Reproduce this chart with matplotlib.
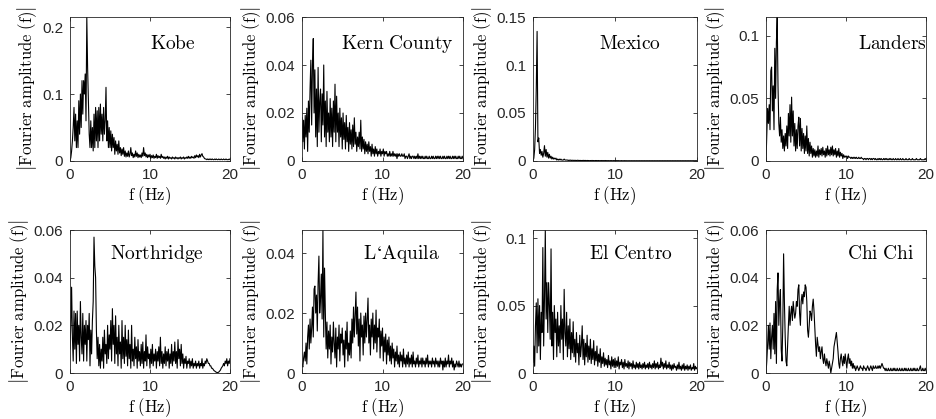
import numpy as np
import matplotlib
matplotlib.use('Agg')
import matplotlib.pyplot as plt
from matplotlib.ticker import FuncFormatter

plt.rcParams['mathtext.fontset'] = 'cm'
plt.rcParams['font.family'] = ['Liberation Sans', 'DejaVu Sans']

# passo em frequencia dos espectros (Hz)
DF = 0.1

# amplitudes de Fourier, de 0 a 20 Hz
kobe = [
    0.000, 0.005, 0.015, 0.030, 0.050, 0.080, 0.030, 0.070, 0.020, 0.060,
    0.020, 0.090, 0.040, 0.100, 0.050, 0.120, 0.070, 0.120, 0.100, 0.130,
    0.060, 0.215, 0.140, 0.090, 0.040, 0.020, 0.060, 0.020, 0.050, 0.015,
    0.070, 0.020, 0.080, 0.030, 0.075, 0.020, 0.080, 0.030, 0.085, 0.040,
    0.070, 0.030, 0.080, 0.040, 0.060, 0.110, 0.030, 0.060, 0.020, 0.050,
    0.020, 0.045, 0.015, 0.040, 0.020, 0.035, 0.010, 0.030, 0.015, 0.025,
    0.010, 0.030, 0.012, 0.020, 0.008, 0.018, 0.010, 0.020, 0.007, 0.015,
    0.006, 0.012, 0.007, 0.015, 0.006, 0.010, 0.020, 0.008, 0.012, 0.005,
    0.010, 0.006, 0.015, 0.007, 0.012, 0.005, 0.010, 0.006, 0.009, 0.005,
    0.012, 0.007, 0.020, 0.008, 0.012, 0.006, 0.010, 0.005, 0.009, 0.006,
    0.010, 0.004, 0.008, 0.005, 0.009, 0.004, 0.007, 0.005, 0.010, 0.004,
    0.008, 0.005, 0.007, 0.004, 0.010, 0.005, 0.007, 0.004, 0.006, 0.003,
    0.006, 0.004, 0.007, 0.003, 0.006, 0.004, 0.005, 0.003, 0.006, 0.004,
    0.005, 0.003, 0.006, 0.004, 0.005, 0.003, 0.005, 0.004, 0.006, 0.003,
    0.005, 0.004, 0.006, 0.003, 0.005, 0.004, 0.006, 0.004, 0.007, 0.004,
    0.006, 0.004, 0.007, 0.005, 0.006, 0.004, 0.008, 0.005, 0.009, 0.006,
    0.008, 0.005, 0.010, 0.006, 0.009, 0.011, 0.007, 0.006, 0.004, 0.003,
    0.003, 0.002, 0.003, 0.002, 0.003, 0.002, 0.003, 0.002, 0.003, 0.002,
    0.002, 0.003, 0.002, 0.003, 0.002, 0.002, 0.003, 0.002, 0.002, 0.003,
    0.002, 0.002, 0.003, 0.002, 0.002, 0.003, 0.002, 0.002, 0.002, 0.003,
    0.002,
]

kern_county = [
    0.018, 0.008, 0.017, 0.005, 0.019, 0.010, 0.022, 0.004, 0.025, 0.012,
    0.030, 0.042, 0.015, 0.040, 0.051, 0.020, 0.038, 0.010, 0.030, 0.006,
    0.039, 0.012, 0.025, 0.030, 0.008, 0.028, 0.015, 0.040, 0.010, 0.025,
    0.006, 0.029, 0.012, 0.020, 0.008, 0.026, 0.010, 0.022, 0.006, 0.025,
    0.012, 0.032, 0.008, 0.027, 0.012, 0.020, 0.006, 0.022, 0.010, 0.018,
    0.005, 0.020, 0.009, 0.016, 0.005, 0.019, 0.008, 0.014, 0.004, 0.016,
    0.007, 0.013, 0.005, 0.015, 0.006, 0.018, 0.007, 0.012, 0.004, 0.010,
    0.006, 0.012, 0.005, 0.017, 0.004, 0.010, 0.005, 0.009, 0.003, 0.008,
    0.004, 0.007, 0.003, 0.008, 0.004, 0.006, 0.002, 0.007, 0.003, 0.005,
    0.002, 0.006, 0.003, 0.005, 0.002, 0.004, 0.003, 0.005, 0.002, 0.004,
    0.003, 0.005, 0.002, 0.004, 0.003, 0.004, 0.002, 0.003, 0.002, 0.004,
    0.002, 0.003, 0.002, 0.004, 0.002, 0.003, 0.002, 0.003, 0.001, 0.003,
    0.002, 0.003, 0.002, 0.002, 0.003, 0.002, 0.002, 0.003, 0.001, 0.002,
    0.002, 0.001, 0.002, 0.003, 0.001, 0.002, 0.001, 0.002, 0.002, 0.001,
    0.002, 0.001, 0.002, 0.001, 0.003, 0.001, 0.002, 0.001, 0.002, 0.001,
    0.002, 0.001, 0.001, 0.002, 0.001, 0.002, 0.001, 0.001, 0.002, 0.001,
    0.001, 0.002, 0.001, 0.002, 0.001, 0.001, 0.002, 0.001, 0.002, 0.001,
    0.002, 0.001, 0.002, 0.001, 0.001, 0.002, 0.001, 0.002, 0.001, 0.001,
    0.002, 0.001, 0.002, 0.001, 0.002, 0.001, 0.001, 0.002, 0.001, 0.002,
    0.001, 0.002, 0.001, 0.001, 0.002, 0.001, 0.002, 0.001, 0.001, 0.002,
    0.001,
]

mexico = [
    0.000, 0.003, 0.012, 0.035, 0.076, 0.135, 0.020, 0.024, 0.008, 0.012,
    0.006, 0.010, 0.004, 0.008, 0.016, 0.005, 0.012, 0.004, 0.009, 0.003,
    0.007, 0.003, 0.005, 0.002, 0.004, 0.002, 0.003, 0.002, 0.003, 0.001,
    0.002, 0.001, 0.002, 0.001, 0.002, 0.001, 0.001, 0.001, 0.002, 0.001,
    0.001, 0.001, 0.001, 0.0005, 0.001, 0.0005, 0.001, 0.0005, 0.0008, 0.0005,
    0.0008, 0.0005, 0.0007, 0.0004, 0.0008, 0.0005, 0.0007, 0.0004, 0.0006, 0.0004,
    0.0006, 0.0004, 0.0007, 0.0004, 0.0006, 0.0003, 0.0006, 0.0004, 0.0005, 0.0003,
    0.0005, 0.0003, 0.0006, 0.0003, 0.0005, 0.0003, 0.0005, 0.0004, 0.0005, 0.0003,
    0.0005, 0.0003, 0.0004, 0.0003, 0.0005, 0.0003, 0.0004, 0.0003, 0.0005, 0.0003,
    0.0004, 0.0003, 0.0004, 0.0002, 0.0004, 0.0003, 0.0004, 0.0002, 0.0004, 0.0003,
    0.0004, 0.0002, 0.0004, 0.0003, 0.0004, 0.0002, 0.0003, 0.0002, 0.0004, 0.0002,
    0.0003, 0.0002, 0.0004, 0.0002, 0.0003, 0.0002, 0.0003, 0.0002, 0.0003, 0.0002,
    0.0003, 0.0002, 0.0003, 0.0002, 0.0003, 0.0002, 0.0003, 0.0002, 0.0003, 0.0002,
    0.0003, 0.0002, 0.0003, 0.0002, 0.0003, 0.0002, 0.0003, 0.0002, 0.0003, 0.0002,
    0.0003, 0.0002, 0.0003, 0.0002, 0.0003, 0.0002, 0.0003, 0.0002, 0.0003, 0.0002,
    0.0003, 0.0002, 0.0003, 0.0002, 0.0003, 0.0002, 0.0003, 0.0002, 0.0003, 0.0002,
    0.0003, 0.0002, 0.0003, 0.0002, 0.0003, 0.0002, 0.0003, 0.0002, 0.0003, 0.0002,
    0.0003, 0.0002, 0.0003, 0.0002, 0.0003, 0.0002, 0.0003, 0.0002, 0.0003, 0.0002,
    0.0003, 0.0002, 0.0003, 0.0002, 0.0003, 0.0002, 0.0003, 0.0002, 0.0003, 0.0002,
    0.0003, 0.0002, 0.0003, 0.0002, 0.0003, 0.0002, 0.0003, 0.0002, 0.0003, 0.0002,
    0.0003,
]

landers = [
    0.000, 0.020, 0.042, 0.030, 0.045, 0.025, 0.072, 0.075, 0.040, 0.060,
    0.025, 0.090, 0.050, 0.095, 0.115, 0.060, 0.030, 0.020, 0.035, 0.015,
    0.025, 0.010, 0.020, 0.008, 0.022, 0.012, 0.028, 0.010, 0.038, 0.020,
    0.045, 0.015, 0.051, 0.020, 0.040, 0.012, 0.030, 0.008, 0.025, 0.010,
    0.028, 0.035, 0.012, 0.034, 0.008, 0.026, 0.010, 0.022, 0.006, 0.020,
    0.008, 0.028, 0.006, 0.018, 0.004, 0.015, 0.006, 0.012, 0.003, 0.010,
    0.004, 0.009, 0.003, 0.008, 0.004, 0.012, 0.003, 0.009, 0.005, 0.010,
    0.004, 0.011, 0.005, 0.008, 0.003, 0.010, 0.004, 0.012, 0.005, 0.009,
    0.004, 0.011, 0.005, 0.012, 0.004, 0.009, 0.005, 0.010, 0.003, 0.008,
    0.004, 0.010, 0.003, 0.007, 0.004, 0.006, 0.002, 0.005, 0.003, 0.004,
    0.003, 0.004, 0.002, 0.004, 0.003, 0.003, 0.002, 0.003, 0.002, 0.003,
    0.002, 0.003, 0.002, 0.003, 0.002, 0.002, 0.003, 0.002, 0.002, 0.003,
    0.002, 0.002, 0.001, 0.002, 0.002, 0.001, 0.002, 0.002, 0.001, 0.002,
    0.002, 0.001, 0.002, 0.001, 0.002, 0.002, 0.001, 0.002, 0.001, 0.001,
    0.002, 0.001, 0.002, 0.001, 0.002, 0.001, 0.001, 0.002, 0.001, 0.002,
    0.001, 0.002, 0.001, 0.001, 0.002, 0.001, 0.002, 0.001, 0.001, 0.002,
    0.001, 0.001, 0.002, 0.001, 0.001, 0.002, 0.001, 0.001, 0.002, 0.001,
    0.001, 0.002, 0.001, 0.001, 0.001, 0.002, 0.001, 0.001, 0.001, 0.002,
    0.001, 0.001, 0.001, 0.002, 0.001, 0.001, 0.001, 0.001, 0.002, 0.001,
    0.001, 0.001, 0.001, 0.002, 0.001, 0.001, 0.001, 0.001, 0.001, 0.002,
    0.001,
]

northridge = [
    0.010, 0.020, 0.036, 0.015, 0.005, 0.026, 0.010, 0.025, 0.004, 0.026,
    0.012, 0.020, 0.005, 0.030, 0.015, 0.008, 0.025, 0.005, 0.020, 0.012,
    0.022, 0.005, 0.020, 0.014, 0.025, 0.003, 0.018, 0.008, 0.022, 0.030,
    0.057, 0.045, 0.040, 0.018, 0.006, 0.015, 0.003, 0.012, 0.002, 0.010,
    0.005, 0.015, 0.002, 0.018, 0.008, 0.012, 0.004, 0.020, 0.006, 0.016,
    0.010, 0.022, 0.005, 0.027, 0.012, 0.020, 0.004, 0.024, 0.008, 0.015,
    0.003, 0.020, 0.008, 0.013, 0.002, 0.022, 0.006, 0.015, 0.004, 0.020,
    0.007, 0.014, 0.003, 0.018, 0.006, 0.012, 0.002, 0.020, 0.005, 0.010,
    0.003, 0.015, 0.006, 0.011, 0.002, 0.014, 0.005, 0.009, 0.003, 0.012,
    0.004, 0.013, 0.002, 0.009, 0.005, 0.016, 0.003, 0.011, 0.006, 0.008,
    0.002, 0.010, 0.004, 0.012, 0.003, 0.008, 0.005, 0.010, 0.002, 0.009,
    0.005, 0.011, 0.003, 0.015, 0.004, 0.009, 0.002, 0.008, 0.004, 0.011,
    0.003, 0.009, 0.005, 0.010, 0.002, 0.008, 0.004, 0.012, 0.003, 0.009,
    0.005, 0.013, 0.004, 0.009, 0.002, 0.014, 0.006, 0.010, 0.003, 0.012,
    0.004, 0.008, 0.002, 0.006, 0.004, 0.007, 0.002, 0.005, 0.004, 0.006,
    0.002, 0.005, 0.003, 0.006, 0.002, 0.004, 0.003, 0.005, 0.002, 0.004,
    0.003, 0.005, 0.002, 0.004, 0.003, 0.006, 0.002, 0.004, 0.003, 0.005,
    0.004, 0.006, 0.005, 0.004, 0.004, 0.003, 0.003, 0.002, 0.002, 0.0015,
    0.001, 0.0008, 0.0005, 0.0003, 0.0002, 0.0002, 0.0004, 0.0008, 0.0012, 0.002,
    0.0025, 0.003, 0.004, 0.003, 0.005, 0.004, 0.006, 0.003, 0.005, 0.004,
    0.006,
]

laquila = [
    0.003, 0.002, 0.005, 0.007, 0.004, 0.010, 0.003, 0.012, 0.016, 0.008,
    0.018, 0.010, 0.015, 0.022, 0.012, 0.028, 0.029, 0.020, 0.026, 0.014,
    0.030, 0.039, 0.020, 0.025, 0.033, 0.018, 0.0477, 0.012, 0.035, 0.020,
    0.008, 0.017, 0.005, 0.014, 0.008, 0.016, 0.003, 0.012, 0.007, 0.017,
    0.010, 0.005, 0.015, 0.002, 0.012, 0.008, 0.016, 0.004, 0.013, 0.010,
    0.015, 0.006, 0.011, 0.002, 0.014, 0.008, 0.017, 0.004, 0.010, 0.006,
    0.014, 0.005, 0.018, 0.010, 0.022, 0.012, 0.019, 0.027, 0.013, 0.022,
    0.009, 0.018, 0.004, 0.020, 0.012, 0.016, 0.006, 0.019, 0.010, 0.020,
    0.012, 0.018, 0.025, 0.010, 0.016, 0.006, 0.018, 0.012, 0.020, 0.008,
    0.016, 0.010, 0.021, 0.007, 0.015, 0.012, 0.018, 0.005, 0.014, 0.009,
    0.015, 0.004, 0.012, 0.007, 0.013, 0.003, 0.011, 0.006, 0.012, 0.004,
    0.009, 0.003, 0.010, 0.005, 0.008, 0.002, 0.007, 0.004, 0.009, 0.003,
    0.006, 0.002, 0.007, 0.004, 0.006, 0.002, 0.008, 0.003, 0.005, 0.002,
    0.006, 0.003, 0.007, 0.002, 0.005, 0.003, 0.006, 0.002, 0.007, 0.003,
    0.004, 0.002, 0.005, 0.003, 0.006, 0.002, 0.004, 0.003, 0.005, 0.002,
    0.005, 0.003, 0.004, 0.002, 0.005, 0.003, 0.006, 0.002, 0.004, 0.003,
    0.004, 0.002, 0.005, 0.003, 0.004, 0.002, 0.005, 0.003, 0.004, 0.002,
    0.004, 0.002, 0.005, 0.003, 0.004, 0.001, 0.004, 0.002, 0.005, 0.002,
    0.004, 0.003, 0.006, 0.002, 0.004, 0.003, 0.005, 0.002, 0.004, 0.001,
    0.003, 0.002, 0.004, 0.003, 0.002, 0.004, 0.002, 0.003, 0.002, 0.003,
    0.003,
]

el_centro = [
    0.008, 0.020, 0.005, 0.035, 0.052, 0.015, 0.055, 0.020, 0.050, 0.010,
    0.045, 0.030, 0.093, 0.020, 0.055, 0.106, 0.040, 0.067, 0.030, 0.067,
    0.050, 0.025, 0.092, 0.020, 0.045, 0.010, 0.050, 0.030, 0.040, 0.012,
    0.045, 0.020, 0.035, 0.015, 0.050, 0.025, 0.040, 0.010, 0.062, 0.030,
    0.020, 0.045, 0.012, 0.035, 0.018, 0.040, 0.010, 0.030, 0.015, 0.038,
    0.012, 0.025, 0.008, 0.030, 0.015, 0.022, 0.006, 0.028, 0.012, 0.020,
    0.035, 0.010, 0.025, 0.006, 0.022, 0.012, 0.028, 0.008, 0.020, 0.010,
    0.025, 0.007, 0.018, 0.010, 0.024, 0.006, 0.016, 0.009, 0.020, 0.005,
    0.014, 0.008, 0.018, 0.004, 0.012, 0.007, 0.015, 0.005, 0.011, 0.006,
    0.010, 0.004, 0.013, 0.006, 0.009, 0.003, 0.012, 0.005, 0.010, 0.004,
    0.011, 0.004, 0.009, 0.005, 0.012, 0.003, 0.008, 0.006, 0.010, 0.004,
    0.008, 0.003, 0.010, 0.005, 0.007, 0.004, 0.009, 0.003, 0.008, 0.005,
    0.007, 0.003, 0.009, 0.004, 0.006, 0.003, 0.008, 0.004, 0.007, 0.003,
    0.008, 0.004, 0.006, 0.003, 0.007, 0.004, 0.008, 0.003, 0.006, 0.004,
    0.007, 0.003, 0.008, 0.004, 0.006, 0.003, 0.007, 0.004, 0.009, 0.003,
    0.007, 0.004, 0.008, 0.003, 0.006, 0.004, 0.011, 0.005, 0.008, 0.003,
    0.007, 0.004, 0.009, 0.003, 0.006, 0.004, 0.008, 0.003, 0.006, 0.002,
    0.006, 0.003, 0.007, 0.004, 0.005, 0.002, 0.006, 0.003, 0.008, 0.003,
    0.005, 0.002, 0.006, 0.003, 0.007, 0.002, 0.005, 0.003, 0.006, 0.002,
    0.005, 0.003, 0.006, 0.002, 0.004, 0.003, 0.007, 0.002, 0.005, 0.003,
    0.004,
]

chi_chi = [
    0.000, 0.005, 0.012, 0.020, 0.010, 0.021, 0.006, 0.015, 0.020, 0.010,
    0.025, 0.008, 0.030, 0.004, 0.035, 0.042, 0.020, 0.030, 0.035, 0.010,
    0.005, 0.020, 0.050, 0.030, 0.015, 0.005, 0.003, 0.012, 0.020, 0.028,
    0.020, 0.025, 0.028, 0.022, 0.030, 0.026, 0.023, 0.025, 0.030, 0.028,
    0.035, 0.037, 0.025, 0.020, 0.030, 0.033, 0.029, 0.034, 0.032, 0.037,
    0.036, 0.030, 0.018, 0.015, 0.020, 0.026, 0.025, 0.022, 0.028, 0.031,
    0.026, 0.019, 0.012, 0.007, 0.015, 0.012, 0.009, 0.011, 0.006, 0.009,
    0.011, 0.006, 0.004, 0.008, 0.005, 0.003, 0.006, 0.004, 0.002, 0.005,
    0.003, 0.000, 0.002, 0.004, 0.006, 0.011, 0.013, 0.015, 0.017, 0.013,
    0.009, 0.004, 0.002, 0.006, 0.008, 0.005, 0.003, 0.007, 0.004, 0.008,
    0.005, 0.002, 0.006, 0.008, 0.004, 0.006, 0.003, 0.005, 0.002, 0.004,
    0.002, 0.003, 0.001, 0.002, 0.003, 0.002, 0.001, 0.002, 0.003, 0.002,
    0.002, 0.001, 0.003, 0.002, 0.002, 0.001, 0.002, 0.003, 0.002, 0.001,
    0.002, 0.003, 0.002, 0.001, 0.003, 0.002, 0.002, 0.003, 0.002, 0.002,
    0.003, 0.002, 0.003, 0.002, 0.003, 0.004, 0.003, 0.002, 0.002, 0.001,
    0.002, 0.001, 0.001, 0.002, 0.001, 0.001, 0.002, 0.001, 0.001, 0.002,
    0.001, 0.002, 0.001, 0.001, 0.002, 0.001, 0.001, 0.002, 0.001, 0.001,
    0.002, 0.001, 0.001, 0.002, 0.001, 0.002, 0.001, 0.001, 0.002, 0.001,
    0.001, 0.002, 0.001, 0.001, 0.002, 0.001, 0.002, 0.001, 0.001, 0.002,
    0.001, 0.001, 0.002, 0.003, 0.001, 0.001, 0.002, 0.001, 0.001, 0.002,
    0.001,
]

nomes = ['Kobe', 'Kern County', 'Mexico', 'Landers',
         'Northridge', 'L\u2018Aquila', 'El Centro', 'Chi Chi']
espectros = [kobe, kern_county, mexico, landers,
             northridge, laquila, el_centro, chi_chi]

# limites e ticks do eixo y de cada painel
y_topo = [0.215, 0.06, 0.15, 0.115, 0.06, 0.0477, 0.106, 0.06]
y_ticks = [[0, 0.1, 0.2], [0, 0.02, 0.04, 0.06], [0, 0.05, 0.1, 0.15], [0, 0.05, 0.1],
           [0, 0.02, 0.04, 0.06], [0, 0.02, 0.04], [0, 0.05, 0.1], [0, 0.02, 0.04, 0.06]]

# posicao dos paineis em pixels (esquerda, largura) e do nome (coord. do eixo)
W, H = 936, 419
esquerdas = [70, 302, 533, 766]
larguras = [160, 161, 164, 160]
pos_nome = [(0.64, 0.81), (0.59, 0.81), (0.59, 0.81), (0.79, 0.81),
            (0.54, 0.83), (0.62, 0.83), (0.60, 0.83), (0.72, 0.83)]

fig = plt.figure(figsize=(W / 100, H / 100), dpi=100)

fmt = FuncFormatter(lambda v, _: f'{v:g}')

for i in range(8):
    linha, coluna = divmod(i, 4)
    if linha == 0:
        topo, base = 17, 161
    else:
        topo, base = 230, 373
    ax = fig.add_axes([esquerdas[coluna] / W, 1 - base / H,
                       larguras[coluna] / W, (base - topo) / H])

    amp = np.array(espectros[i])
    f = np.arange(len(amp)) * DF
    ax.plot(f, amp, color='black', linewidth=0.8)

    ax.set_xlim(0, 20)
    ax.set_ylim(0, y_topo[i])
    ax.set_xticks([0, 10, 20])
    ax.set_yticks(y_ticks[i])
    ax.xaxis.set_major_formatter(fmt)
    ax.yaxis.set_major_formatter(fmt)
    ax.tick_params(direction='in', top=True, right=True, length=3, width=0.6,
                   labelsize=11, colors='#262626', pad=5)
    for s in ax.spines.values():
        s.set_linewidth(0.6)
        s.set_color('#262626')

    ax.set_xlabel(r'$\mathrm{f\ (Hz)}$', fontsize=12, labelpad=2)
    ax.set_ylabel(r'$\left|\mathrm{Fourier\ amplitude\ (f)}\right|$', fontsize=12, labelpad=2)

    px, py = pos_nome[i]
    rotulo = nomes[i].replace(' ', r'\ ')
    ax.text(px, py, r'$\mathrm{' + rotulo + '}$', transform=ax.transAxes,
            ha='center', va='center', fontsize=14)

fig.savefig('out.png', dpi=100)
